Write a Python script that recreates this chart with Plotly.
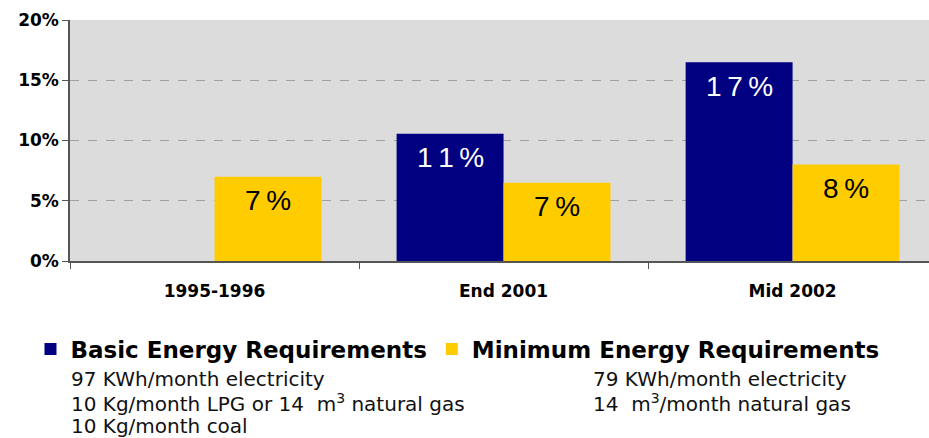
import plotly.graph_objects as go

categories = ["1995-1996", "End 2001", "Mid 2002"]
basic_pct = [None, 10.55, 16.5]
minimum_pct = [7.0, 6.5, 8.0]
basic_labels = ["", "11%", "17%"]
minimum_labels = ["7%", "7%", "8%"]
basic_notes = ["97 KWh/month electricity",
               "10 Kg/month LPG or 14  m<sup>3</sup> natural gas",
               "10 Kg/month coal"]
minimum_notes = ["79 KWh/month electricity",
                 "14  m<sup>3</sup>/month natural gas"]

NAVY = "#000080"
GOLD = "#FFCC00"
SANS = "Liberation Sans, Arial, sans-serif"
WIDE = "DejaVu Sans, sans-serif"


def spaced(s):
    # the original labels are drawn with loose letter spacing
    return "\u2009".join(s)


fig = go.Figure()
fig.add_trace(go.Bar(x=categories, y=basic_pct, name="Basic Energy Requirements",
                     marker_color=NAVY, marker_line_width=0, hoverinfo="skip"))
fig.add_trace(go.Bar(x=categories, y=minimum_pct, name="Minimum Energy Requirements",
                     marker_color=GOLD, marker_line_width=0, hoverinfo="skip"))

# value labels near the top of each bar
for cat, val, lab in zip(categories, basic_pct, basic_labels):
    if val:
        fig.add_annotation(x=cat, y=val, text=spaced(lab), showarrow=False, xshift=-53, yshift=-24,
                           font=dict(family=SANS, size=28, color="white"))
for cat, val, lab in zip(categories, minimum_pct, minimum_labels):
    fig.add_annotation(x=cat, y=val, text=spaced(lab), showarrow=False, xshift=53, yshift=-24,
                       font=dict(family=SANS, size=28, color="black"))

# notes under the legend
for i, t in enumerate(basic_notes):
    fig.add_annotation(xref="paper", yref="paper", x=0.0, y=-0.49 - 0.098 * i, text=t,
                       showarrow=False, xanchor="left", yanchor="middle", borderpad=0,
                       font=dict(family=WIDE, size=20, color="#111"))
for i, t in enumerate(minimum_notes):
    fig.add_annotation(xref="paper", yref="paper", x=0.608, y=-0.49 - 0.098 * i, text=t,
                       showarrow=False, xanchor="left", yanchor="middle", borderpad=0,
                       font=dict(family=WIDE, size=20, color="#111"))

fig.update_layout(
    width=929, height=438,
    margin=dict(l=70, r=0, t=20, b=177),
    paper_bgcolor="white",
    plot_bgcolor="#DCDCDC",
    barmode="group",
    bargap=0.26,
    bargroupgap=0,
    showlegend=True,
    legend=dict(orientation="h", x=-0.046, xanchor="left", y=-0.365, yanchor="middle",
                font=dict(family=WIDE, size=23, color="black", weight="bold"),
                itemwidth=30, traceorder="normal"),
    font=dict(family=SANS),
)
fig.update_yaxes(range=[0, 20], dtick=5, ticksuffix="%", showgrid=True,
                 gridcolor="#A0A0A0", griddash="dash", gridwidth=1,
                 showline=True, linecolor="#555", linewidth=1.5,
                 ticks="outside", ticklen=6, tickcolor="#555",
                 tickfont=dict(family=WIDE, size=17, color="black", weight="bold"),
                 zeroline=False, automargin=False)
# the last category runs slightly past the right edge in the original
fig.update_xaxes(range=[-0.5, 2.472], showline=True, linecolor="#555", linewidth=1.5,
                 ticks="outside", tickson="boundaries", ticklen=6, tickcolor="#555",
                 ticklabelstandoff=14, automargin=False,
                 tickfont=dict(family=WIDE, size=17, color="black", weight="bold"))

# drop the default page margin so the figure fills the window exactly
fig.write_html("out.html", config={"displayModeBar": False},
               post_script="document.body.style.margin='0';")
